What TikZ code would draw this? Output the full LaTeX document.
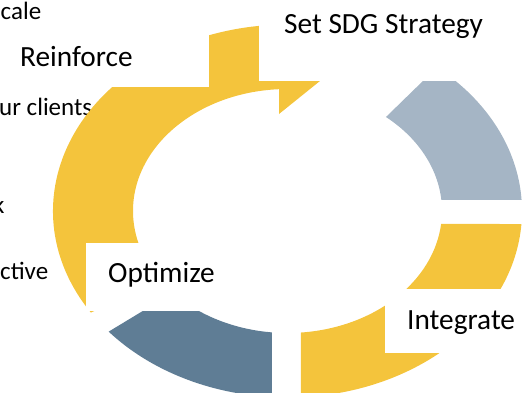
\documentclass[tikz,border=0pt]{standalone}
\usepackage{fontspec}
\setmainfont{Carlito}
\definecolor{sunyellow}{HTML}{F4C43C}
\definecolor{paleslate}{HTML}{A5B5C5}
\definecolor{deepslate}{HTML}{5F7D95}
\tikzset{
  ring outer/.style={x radius=234.5, y radius=186.5},
  ring inner/.style={x radius=154.5, y radius=122},
  cover/.style={fill=white, inner sep=0pt},
  tag/.style={font=\fontsize{29.3}{35}\selectfont, anchor=base west, inner sep=0pt},
  sidetext/.style={font=\fontsize{25}{30}\selectfont, anchor=base west, inner sep=0pt}
}
\begin{document}
\begin{tikzpicture}[x=1pt,y=1pt]
  \useasboundingbox (0,0) rectangle (527,392);
  \node[sidetext] (Scale) at (0.5,373) {cale};
  \node[sidetext] (Clients) at (-1,277) {ur clients};
  \node[sidetext] (Risk) at (-7,179) {k};
  \node[sidetext] (Active) at (0,113) {ctive};
  \begin{scope}[shift={(287.5,181)}]
    \fill[paleslate] (50.4:234.5 and 186.5) arc[ring outer, start angle=50.4, end angle=3.4]
      -- (5.2:154.5 and 122) arc[ring inner, start angle=5.2, end angle=50.4] -- cycle;
    \fill[sunyellow] (-4:234.5 and 186.5) arc[ring outer, start angle=-4, end angle=-86.7]
      -- (-85:154.5 and 122) arc[ring inner, start angle=-85, end angle=-6.1] -- cycle;
    \fill[deepslate] (-93.8:234.5 and 186.5) arc[ring outer, start angle=-93.8, end angle=-139.7]
      -- (-137.9:154.5 and 122) arc[ring inner, start angle=-137.9, end angle=-95.8] -- cycle;
    \coordinate (HeadOut) at (-8.5,210.4);
    \coordinate (HeadTip) at (61.9,153.7);
    \coordinate (HeadIn) at (-8.5,97);
    \fill[sunyellow] (213:234.5 and 186.5) arc[ring outer, start angle=213, end angle=92.08]
      -- (HeadOut) -- (HeadTip) -- (HeadIn)
      -- (93.15:154.5 and 122) arc[ring inner, start angle=93.15, end angle=215] -- cycle;
  \end{scope}
  \node[cover, minimum width=268, minimum height=62] (ReinforceBox) at (75,336) {};
  \node[cover, minimum width=248, minimum height=81] (StrategyBox) at (383,351.5) {};
  \node[cover, minimum width=150, minimum height=68] (OptimizeBox) at (161,115) {};
  \node[cover, minimum width=152, minimum height=64] (IntegrateBox) at (461,71) {};
  \node[tag] (Strategy) at (284,359) {Set SDG Strategy};
  \node[tag] (Reinforce) at (20,326) {Reinforce};
  \node[tag] (Optimize) at (108,110) {Optimize};
  \node[tag] (Integrate) at (407,63) {Integrate};
\end{tikzpicture}
\end{document}
